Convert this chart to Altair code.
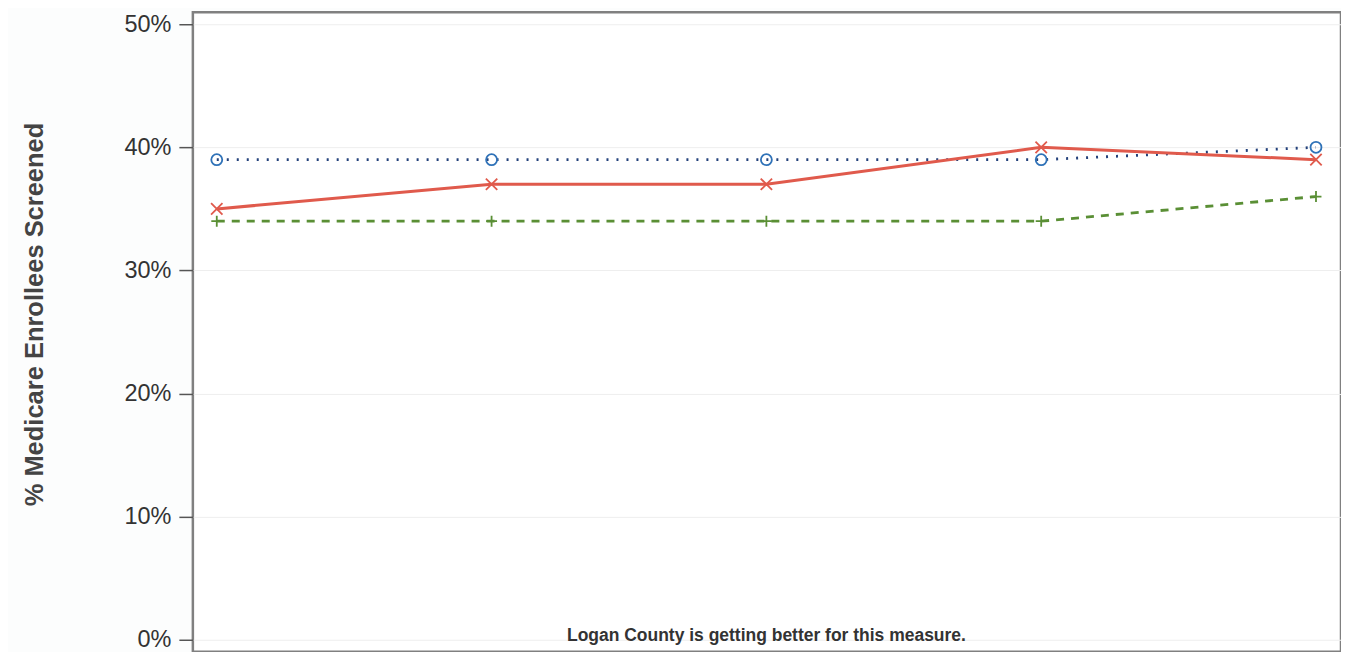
import altair as alt
import pandas as pd

# ---- data ----
periods = [0, 1, 2, 3, 4]
state_avg = [39, 39, 39, 39, 40]      # blue dotted, circles
logan = [35, 37, 37, 40, 39]          # red solid, x markers
peer = [34, 34, 34, 34, 36]           # green dashed, + markers
y_ticks = [0, 10, 20, 30, 40, 50]
note = "Logan County is getting better for this measure."

def frame(vals, name):
    return pd.DataFrame({"period": periods, "value": vals, "series": name})

df_blue = frame(state_avg, "blue")
df_red = frame(logan, "red")
df_green = frame(peer, "green")

W, H = 1149, 640
xs = alt.Scale(domain=[-0.087, 4.091], nice=False, zero=False)
ys = alt.Scale(domain=[-0.974, 50.974], nice=False, zero=False)

X = alt.X("period:Q", scale=xs, axis=None)
Y = alt.Y(
    "value:Q",
    scale=ys,
    axis=alt.Axis(
        values=y_ticks,
        labelExpr="datum.value + '%'",
        title="% Medicare Enrollees Screened",
        titleFont="Liberation Sans",
        titleFontSize=25.5,
        titleFontWeight="bold",
        titleColor="#444444",
        titleAngle=-90,
        titleX=-158,
        titleY=302,
        titleAlign="center",
        titleBaseline="middle",
        labelFont="Liberation Sans",
        labelFontSize=23.5,
        labelColor="#333333",
        labelPadding=8,
        tickSize=14,
        tickColor="#555555",
        tickWidth=1.5,
        domain=False,
        grid=True,
        gridColor="#eeeeee",
        gridWidth=1,
    ),
)

xshape = "M-1,-1L1,1M1,-1L-1,1"
plusshape = "M-1,0L1,0M0,-1L0,1"

blue_line = alt.Chart(df_blue).mark_line(
    color="#22407a", strokeWidth=2.8, strokeDash=[2, 8], strokeCap="butt"
).encode(x=X, y=Y)
blue_pts = alt.Chart(df_blue).mark_point(
    shape="circle", size=120, filled=False, color="#2f72b8", strokeWidth=1.8, opacity=1
).encode(x=X, y=Y)

green_line = alt.Chart(df_green).mark_line(
    color="#5a8f35", strokeWidth=2.8, strokeDash=[8, 7]
).encode(x=X, y=Y)
green_pts = alt.Chart(df_green).mark_point(
    shape=plusshape, size=120, filled=False, color="#5a8f35", strokeWidth=1.8, opacity=1
).encode(x=X, y=Y)

red_line = alt.Chart(df_red).mark_line(
    color="#e05a4c", strokeWidth=3
).encode(x=X, y=Y)
red_pts = alt.Chart(df_red).mark_point(
    shape=xshape, size=130, filled=False, color="#e05a4c", strokeWidth=1.8, opacity=1
).encode(x=X, y=Y)

note_df = pd.DataFrame({"text": [note]})
note_mark = alt.Chart(note_df).mark_text(
    font="Liberation Sans", fontSize=17.5, fontWeight="bold", color="#333333",
    align="center", baseline="alphabetic"
).encode(x=alt.value(574), y=alt.value(629), text="text:N")

chart = alt.layer(
    blue_line, green_line, red_line, blue_pts, green_pts, red_pts, note_mark
).properties(
    width=W,
    height=H,
    autosize=alt.AutoSizeParams(type="none"),
    padding={"left": 185, "top": 4, "right": 0, "bottom": 0},
    background="#fcfdfd",
).configure_view(
    stroke="#808080", strokeWidth=2.5, fill="#ffffff"
)

chart.save("out.html", embed_options={"renderer": "svg", "actions": False})
